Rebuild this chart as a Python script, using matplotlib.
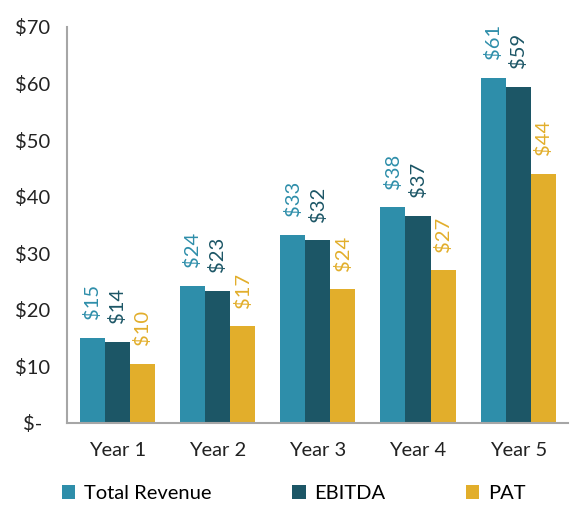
import matplotlib.pyplot as plt
import numpy as np

# Daten
years = ["Year 1", "Year 2", "Year 3", "Year 4", "Year 5"]
total_revenue = [15.0, 24.2, 33.3, 38.1, 61.0]
ebitda = [14.3, 23.3, 32.3, 36.6, 59.4]
pat = [10.4, 17.1, 23.6, 27.0, 44.0]

series = [("Total Revenue", total_revenue, "#2E8EAA"),
          ("EBITDA", ebitda, "#1C5666"),
          ("PAT", pat, "#E2AE2B")]

plt.rcParams["font.family"] = ["Lato", "DejaVu Sans"]

fig = plt.figure(figsize=(5.73, 5.09), dpi=100)
ax = fig.add_axes([0.117, 0.169, 0.875, 0.778])

x = np.arange(len(years))
w = 0.25
for i, (name, vals, col) in enumerate(series):
    pos = x + (i - 1) * w
    ax.bar(pos, vals, width=w, color=col, label=name)
    for px, v in zip(pos, vals):
        ax.text(px, v + 3.3, f"${round(v)}", rotation=90, ha="center", va="bottom",
                color=col, fontsize=14.5)

ax.set_ylim(0, 70)
ax.set_xlim(-0.5, 4.5)
ax.set_yticks(range(0, 71, 10))
ax.set_yticklabels(["$-"] + [f"${v}" for v in range(10, 71, 10)])
ax.set_xticks(x)
ax.set_xticklabels(years)
ax.tick_params(axis="both", length=0, labelsize=14.5, colors="#222222")
ax.tick_params(axis="y", pad=25)
ax.tick_params(axis="x", pad=14)
for lbl in ax.get_yticklabels():
    lbl.set_horizontalalignment("center")
for s in ["top", "right"]:
    ax.spines[s].set_visible(False)
for s in ["left", "bottom"]:
    ax.spines[s].set_color("#A6A6A6")
    ax.spines[s].set_linewidth(1.5)

fig.legend(loc="lower left", bbox_to_anchor=(0.077, -0.022), ncol=3, frameon=False,
           fontsize=14.5, handlelength=0.65, handleheight=0.65, handletextpad=0.45,
           columnspacing=4.0)

plt.savefig("out.png", dpi=100)
